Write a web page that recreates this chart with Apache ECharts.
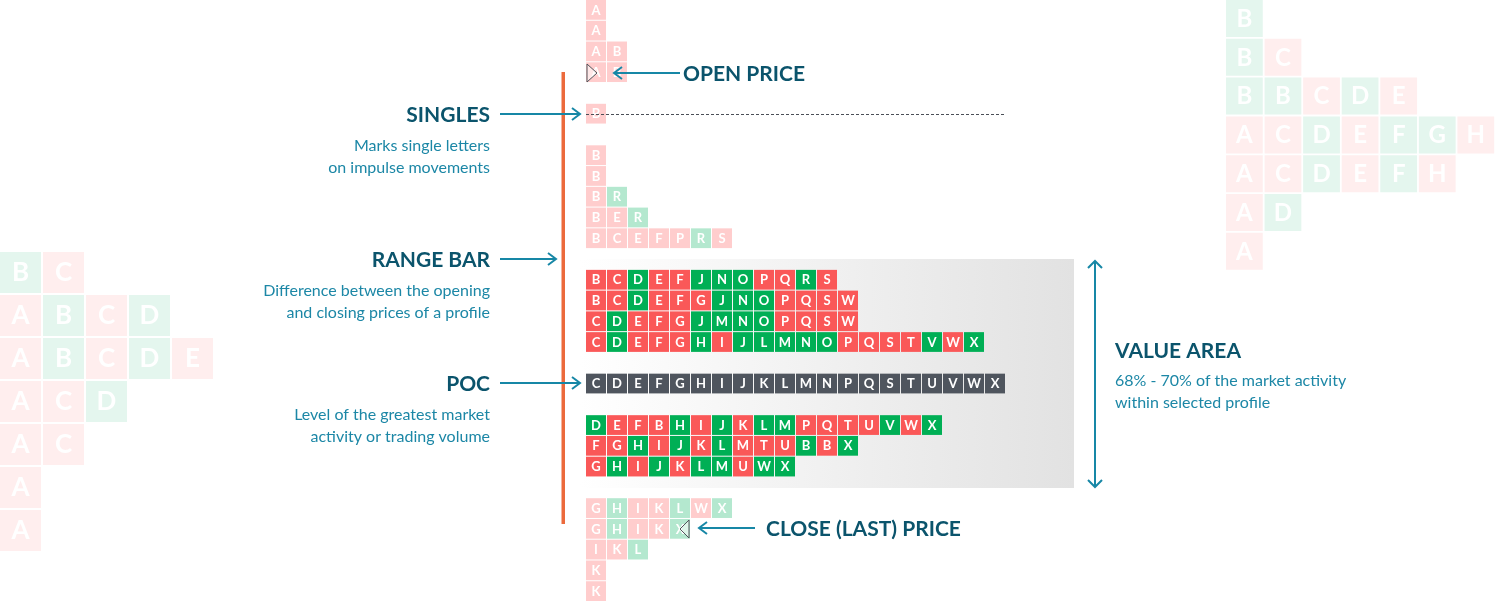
<!DOCTYPE html>
<html><head><meta charset="utf-8">
<script src="https://cdn.jsdelivr.net/npm/echarts@6/dist/echarts.min.js"></script>
<style>html,body{margin:0;padding:0;background:#fff}#c{width:1496px;height:602px}</style>
</head><body><div id="c"></div>
<script>
// ---- Main market profile (one entry per price row, top to bottom) ----
const profileLetters = ['A','A','AB','AB','','B','','B','B','BR','BER','BCEFPRS','',
  'BCDEFJNOPQRS','BCDEFGJNOPQSW','CDEFGJMNOPQSW','CDEFGHIJLMNOPQSTVWX','',
  'CDEFGHIJKLMNPQSTUVWX','',
  'DEFBHIJKLMPQTUVWX','FGHIJKLMTUBBX','GHIJKLMUWX','',
  'GHIKLWX','GHIKX','IKL','K','K'];
const profileColors = ['r','r','rr','rr','','r','','r','r','rg','rrg','rrrrrgr','',
  'rrgrrgggrrgr','rrgrrrgggrrrr','rgrrrggggrrrr','rgrrrgrgggggrrrrgrg','',
  'dddddddddddddddddddd','',
  'grrrgrgrggrrrrgrg','rrgrgrgrrrgrg','rgrgrggrgg','',
  'rgrrgrg','rgrrg','rrg','r','r'];
// f = faded (outside value area), s = solid (value area), p = POC
const profileShade = ['f','f','f','f','','f','','f','f','f','f','f','',
  's','s','s','s','','p','','s','s','s','','f','f','f','f','f'];

// ---- Decorative faded profile, top right ----
const decoRightLetters = ['B','BC','BBCDE','ACDEFGH','ACDEFH','AD','A'];
const decoRightColors  = ['g','gr','ggrgr','rrgrggr','rrgrgr','rg','r'];
// ---- Decorative faded profile, left ----
const decoLeftLetters = ['BC','ABCD','ABCDE','ACD','AC','A','A'];
const decoLeftColors  = ['gr','rgrg','rgrgr','rrg','rr','r','r'];

const palette = {
  sr:'#FA5858', sg:'#00AF55', fr:'#FFCDCD', fg:'#B4E8CF', pd:'#4F555E',
  dr:'#FFEEEE', dg:'#E4F6EE'
};

function toCells(letters, colors, shade) {
  const out = [];
  letters.forEach((row, r) => {
    for (let c = 0; c < row.length; c++) {
      const s = typeof shade === 'string' ? shade : shade[r];
      const key = s === 'p' ? 'pd' : (s + colors[r][c]);
      out.push([c, r, row[c], key]);
    }
  });
  return out;
}

const mainCells = toCells(profileLetters, profileColors, profileShade);
const rightCells = toCells(decoRightLetters, decoRightColors, 'd');
const leftCells = toCells(decoLeftLetters, decoLeftColors, 'd');

function cellRenderer(cells, gap, font) {
  return function (params, api) {
    const d = cells[params.dataIndex];
    const p0 = api.coord([api.value(0), api.value(1)]);
    const p1 = api.coord([api.value(0) + 1, api.value(1) + 1]);
    const w = p1[0] - p0[0] - gap, h = p1[1] - p0[1] - gap;
    return {
      type: 'group',
      children: [
        { type: 'rect', shape: { x: p0[0], y: p0[1], width: w, height: h },
          style: { fill: palette[d[3]] } },
        { type: 'text', style: { text: d[2], x: p0[0] + w / 2, y: p0[1] + h / 2 + 0.5,
          align: 'center', verticalAlign: 'middle', fill: '#ffffff', font: font } }
      ]
    };
  };
}

const HEAD = '#0B546C', SUB = '#1C87A6', ARROW = '#1787A6';
const headFont = 'bold 21px Lato', subFont = '16px Lato';

function arrowH(x1, x2, y, dir) { // head at x2; dir 1 = pointing right, -1 = pointing left
  return [
    { type: 'line', shape: { x1, y1: y, x2, y2: y }, style: { stroke: ARROW, lineWidth: 2 }, z: 50 },
    { type: 'polyline', shape: { points: [[x2 - dir * 8, y - 6], [x2, y], [x2 - dir * 8, y + 6]] },
      style: { stroke: ARROW, lineWidth: 2, fill: null }, z: 50 }
  ];
}
function text(x, y, str, font, fill, align) {
  return { type: 'text', x, y, z: 50,
    style: { text: str, font, fill, align, verticalAlign: 'middle' } };
}

const graphics = [
  // value area shading
  { type: 'rect', shape: { x: 580, y: 259, width: 494, height: 229 }, z: -10,
    style: { fill: new echarts.graphic.LinearGradient(0, 0, 1, 0,
      [{ offset: 0, color: '#FFFFFF' }, { offset: 1, color: '#E2E2E2' }]) } },
  // range bar
  { type: 'rect', shape: { x: 561.5, y: 72, width: 3.5, height: 452 }, z: 40,
    style: { fill: '#EC6A3C' } },
  // singles dashed line
  { type: 'line', shape: { x1: 586, y1: 114.5, x2: 1004, y2: 114.5 }, z: 40,
    style: { stroke: '#4A4F57', lineWidth: 1, lineDash: [3, 2] } },
  // open / close triangles
  { type: 'polygon', shape: { points: [[587, 64], [597, 73], [587, 82]] }, z: 40,
    style: { fill: 'rgba(255,255,255,0.55)', stroke: '#50545A', lineWidth: 1 } },
  { type: 'polygon', shape: { points: [[689, 520], [680, 529], [689, 538]] }, z: 40,
    style: { fill: 'rgba(255,255,255,0.55)', stroke: '#50545A', lineWidth: 1 } },
  ...arrowH(680, 614, 73, -1),
  text(683, 74, 'OPEN PRICE', headFont, HEAD, 'left'),
  ...arrowH(755, 699, 528, -1),
  text(766, 529, 'CLOSE (LAST) PRICE', headFont, HEAD, 'left'),
  ...arrowH(500, 580, 114, 1),
  text(490, 115, 'SINGLES', headFont, HEAD, 'right'),
  text(490, 146, 'Marks single letters', subFont, SUB, 'right'),
  text(490, 168, 'on impulse movements', subFont, SUB, 'right'),
  ...arrowH(500, 556, 259, 1),
  text(490, 260, 'RANGE BAR', headFont, HEAD, 'right'),
  text(490, 291, 'Difference between the opening', subFont, SUB, 'right'),
  text(490, 313, 'and closing prices of a profile', subFont, SUB, 'right'),
  ...arrowH(500, 580, 383, 1),
  text(490, 384, 'POC', headFont, HEAD, 'right'),
  text(490, 415, 'Level of the greatest market', subFont, SUB, 'right'),
  text(490, 437, 'activity or trading volume', subFont, SUB, 'right'),
  // value area double arrow
  { type: 'line', shape: { x1: 1095, y1: 261, x2: 1095, y2: 487 }, style: { stroke: ARROW, lineWidth: 2 }, z: 50 },
  { type: 'polyline', shape: { points: [[1088, 268], [1095, 261], [1102, 268]] }, style: { stroke: ARROW, lineWidth: 2, fill: null }, z: 50 },
  { type: 'polyline', shape: { points: [[1088, 480], [1095, 487], [1102, 480]] }, style: { stroke: ARROW, lineWidth: 2, fill: null }, z: 50 },
  text(1115, 351, 'VALUE AREA', headFont, HEAD, 'left'),
  text(1115, 381, '68% - 70% of the market activity', subFont, SUB, 'left'),
  text(1115, 403, 'within selected profile', subFont, SUB, 'left')
];

function ax(max, inverse) {
  return { type: 'value', min: 0, max, inverse: !!inverse, show: false };
}

const chart = echarts.init(document.getElementById('c'), null, { renderer: 'canvas' });
chart.setOption({
  animation: false,
  backgroundColor: '#ffffff',
  grid: [
    { left: 586, top: 0, width: 21 * 42, height: 20.8 * 29 },
    { left: 1226, top: 0, width: 38.8 * 7, height: 38.8 * 7 },
    { left: 0, top: 252, width: 43 * 5, height: 43 * 7 }
  ],
  xAxis: [
    Object.assign(ax(42), { gridIndex: 0 }),
    Object.assign(ax(7), { gridIndex: 1 }),
    Object.assign(ax(5), { gridIndex: 2 })
  ],
  yAxis: [
    Object.assign(ax(29, true), { gridIndex: 0 }),
    Object.assign(ax(7, true), { gridIndex: 1 }),
    Object.assign(ax(7, true), { gridIndex: 2 })
  ],
  series: [
    { type: 'custom', xAxisIndex: 0, yAxisIndex: 0, z: 10, data: mainCells.map(d => [d[0], d[1]]),
      renderItem: cellRenderer(mainCells, 1, 'bold 13px Lato'), silent: true },
    { type: 'custom', xAxisIndex: 1, yAxisIndex: 1, z: 5, data: rightCells.map(d => [d[0], d[1]]),
      renderItem: cellRenderer(rightCells, 1.8, 'bold 24px Lato'), silent: true },
    { type: 'custom', xAxisIndex: 2, yAxisIndex: 2, z: 5, data: leftCells.map(d => [d[0], d[1]]),
      renderItem: cellRenderer(leftCells, 2, 'bold 26px Lato'), silent: true }
  ],
  graphic: { elements: graphics }
});
</script></body></html>
